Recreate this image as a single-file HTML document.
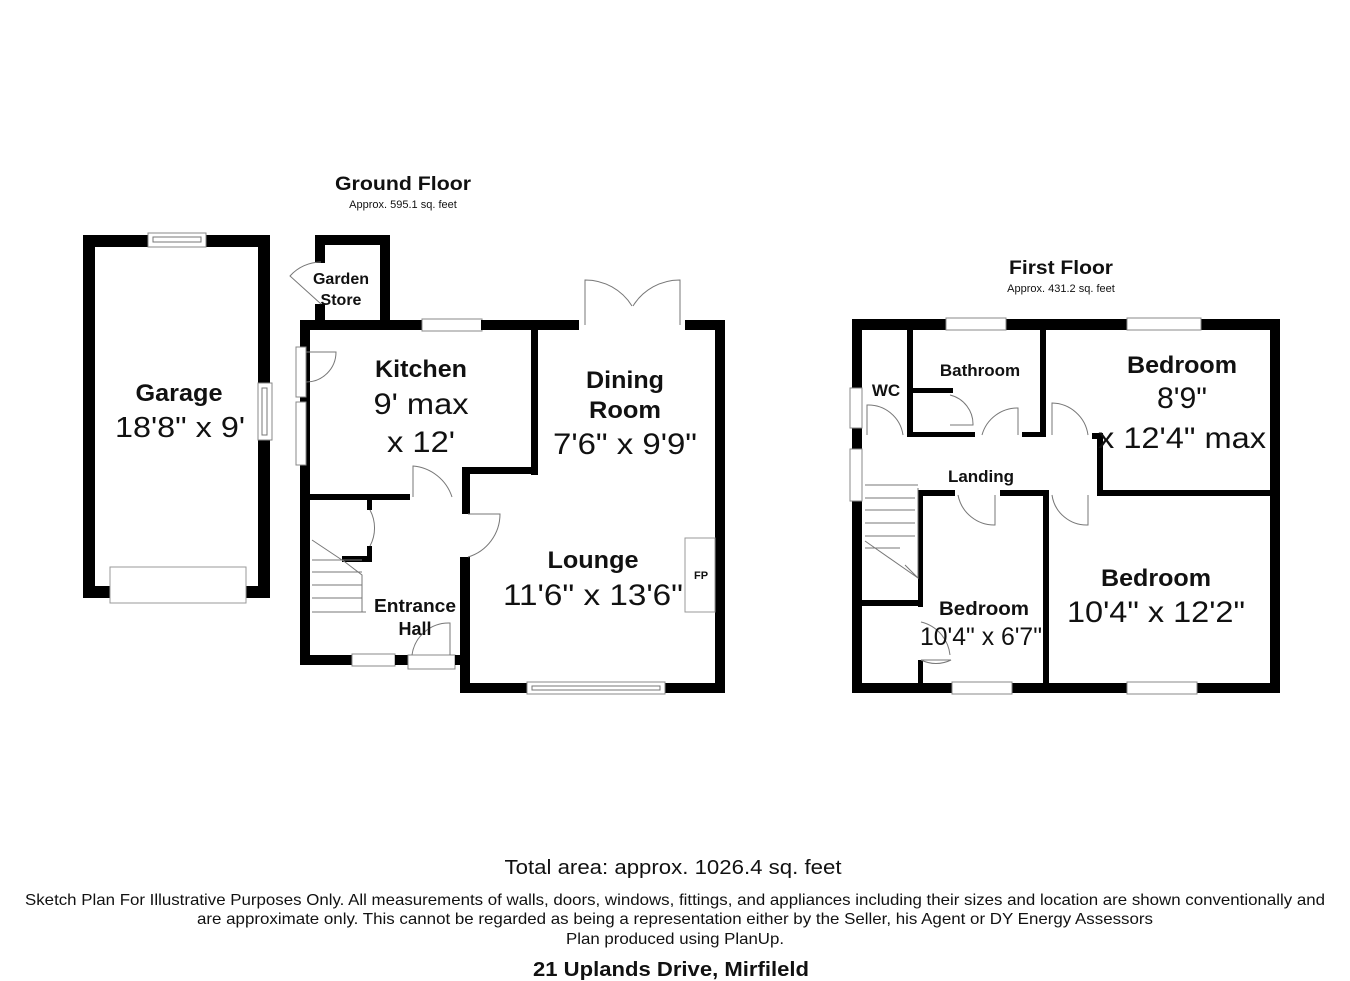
<!DOCTYPE html>
<html><head><meta charset="utf-8"><style>
html,body{margin:0;padding:0;background:#fff;}
svg{display:block;}
text{font-family:"Liberation Sans",sans-serif;fill:#111;}
.b{font-weight:bold;}
.w{fill:#000;}
.win{fill:#fff;stroke:#888;stroke-width:1;}
.ln{fill:none;stroke:#777;stroke-width:1;}
</style></head><body>
<svg width="1350" height="981" viewBox="0 0 1350 981" xmlns="http://www.w3.org/2000/svg">
<!-- Headings -->
<text x="403" y="190" font-size="19" class="b" text-anchor="middle" textLength="136" lengthAdjust="spacingAndGlyphs">Ground Floor</text>
<text x="403" y="208" font-size="11" text-anchor="middle">Approx. 595.1 sq. feet</text>
<text x="1061" y="274" font-size="19" class="b" text-anchor="middle" textLength="104" lengthAdjust="spacingAndGlyphs">First Floor</text>
<text x="1061" y="292" font-size="11" text-anchor="middle">Approx. 431.2 sq. feet</text>

<!-- Garage -->
<rect class="w" x="83" y="235" width="187" height="12"/>
<rect class="w" x="83" y="235" width="12" height="363"/>
<rect class="w" x="258" y="235" width="12" height="363"/>
<rect class="w" x="83" y="586" width="187" height="12"/>
<rect class="win" x="148" y="233" width="58" height="14"/>
<rect class="ln" x="153" y="237" width="48" height="5"/>
<rect class="win" x="258" y="383" width="14" height="57"/>
<rect class="ln" x="262" y="388" width="5" height="47"/>
<rect x="110" y="567" width="136" height="36" fill="#fff" stroke="#999"/>
<text x="179" y="401" font-size="24" class="b" text-anchor="middle" textLength="87" lengthAdjust="spacingAndGlyphs">Garage</text>
<text x="180" y="437" font-size="29" text-anchor="middle" textLength="130" lengthAdjust="spacingAndGlyphs">18'8" x 9'</text>

<!-- Ground floor walls -->
<rect class="w" x="315" y="235" width="75" height="10"/>
<rect class="w" x="315" y="235" width="10" height="28"/>
<rect class="w" x="315" y="304" width="10" height="26"/>
<rect class="w" x="380" y="235" width="10" height="95"/>
<path class="ln" d="M321 262 A42 42 0 0 0 290 276 L321 304"/>
<rect class="w" x="300" y="320" width="122" height="10"/>
<rect class="win" x="422" y="319" width="60" height="12"/>
<rect class="w" x="481" y="320" width="98" height="10"/>
<rect class="w" x="685" y="320" width="40" height="10"/>
<path class="ln" d="M585 325 L585 280 A55 55 0 0 1 632 306 M680 325 L680 280 A55 55 0 0 0 633 306"/>
<rect class="w" x="715" y="320" width="10" height="373"/>
<rect class="w" x="460" y="683" width="265" height="10"/>
<rect class="win" x="527" y="682" width="138" height="12"/>
<rect class="ln" x="532" y="686" width="128" height="4"/>
<rect class="w" x="300" y="320" width="10" height="345"/>
<rect class="win" x="296" y="347" width="10" height="50"/>
<rect class="win" x="296" y="402" width="10" height="63"/>
<path class="ln" d="M306 352 L336 352 A30 30 0 0 1 306 382"/>
<rect class="w" x="300" y="655" width="52" height="10"/>
<rect class="win" x="352" y="654" width="43" height="12"/>
<rect class="w" x="395" y="655" width="13" height="10"/>
<rect class="win" x="408" y="655" width="47" height="14"/>
<path class="ln" d="M412 655 A37 37 0 0 1 450 623 L450 655"/>
<rect class="w" x="455" y="655" width="13" height="10"/>
<rect class="w" x="460" y="557" width="10" height="136"/>
<rect class="w" x="462" y="494" width="8" height="20"/>
<path class="ln" d="M468 514 L500 514 A45 45 0 0 1 468 557"/>
<rect class="w" x="531" y="330" width="7" height="145"/>
<rect class="w" x="462" y="467" width="76" height="7"/>
<rect class="w" x="462" y="467" width="8" height="33"/>
<rect class="w" x="310" y="494" width="100" height="6"/>
<path class="ln" d="M413 497 L413 466 A45 45 0 0 1 452 497"/>
<rect class="w" x="367" y="500" width="5" height="10"/>
<rect class="w" x="342" y="556" width="30" height="6"/>
<rect class="w" x="367" y="546" width="5" height="16"/>
<path class="ln" d="M370 510 A38 38 0 0 1 370 546"/>
<path class="ln" d="M312 540 L345 562 L362 575 L362 612 L366 612 M312 560 L362 560 M312 572 L362 572 M312 585 L362 585 M312 598 L362 598 M312 612 L366 612"/>
<rect x="685" y="538" width="30" height="74" fill="#fff" stroke="#999"/>
<text x="701" y="579" font-size="11" class="b" text-anchor="middle">FP</text>

<text x="341" y="284" font-size="16" class="b" text-anchor="middle">Garden</text>
<text x="341" y="305" font-size="16" class="b" text-anchor="middle">Store</text>
<text x="421" y="377" font-size="24" class="b" text-anchor="middle" textLength="92" lengthAdjust="spacingAndGlyphs">Kitchen</text>
<text x="421" y="414" font-size="30" text-anchor="middle" textLength="95" lengthAdjust="spacingAndGlyphs">9' max</text>
<text x="421" y="452" font-size="30" text-anchor="middle" textLength="68" lengthAdjust="spacingAndGlyphs">x 12'</text>
<text x="625" y="388" font-size="24" class="b" text-anchor="middle" textLength="78" lengthAdjust="spacingAndGlyphs">Dining</text>
<text x="625" y="418" font-size="24" class="b" text-anchor="middle" textLength="72" lengthAdjust="spacingAndGlyphs">Room</text>
<text x="625" y="454" font-size="30" text-anchor="middle" textLength="144" lengthAdjust="spacingAndGlyphs">7'6" x 9'9"</text>
<text x="593" y="568" font-size="24" class="b" text-anchor="middle" textLength="91" lengthAdjust="spacingAndGlyphs">Lounge</text>
<text x="593" y="605" font-size="30" text-anchor="middle" textLength="180" lengthAdjust="spacingAndGlyphs">11'6" x 13'6"</text>
<text x="415" y="612" font-size="18" class="b" text-anchor="middle" textLength="82" lengthAdjust="spacingAndGlyphs">Entrance</text>
<text x="415" y="635" font-size="18" class="b" text-anchor="middle">Hall</text>

<!-- First floor -->
<rect class="w" x="852" y="319" width="428" height="11"/>
<rect class="win" x="946" y="318" width="60" height="12"/>
<rect class="win" x="1127" y="318" width="74" height="12"/>
<rect class="w" x="1270" y="319" width="10" height="374"/>
<rect class="w" x="852" y="683" width="428" height="10"/>
<rect class="win" x="952" y="682" width="60" height="12"/>
<rect class="win" x="1127" y="682" width="70" height="12"/>
<rect class="w" x="852" y="319" width="10" height="374"/>
<rect class="win" x="850" y="388" width="12" height="40"/>
<rect class="win" x="850" y="449" width="12" height="52"/>
<rect class="w" x="852" y="600" width="71" height="6"/>
<rect class="w" x="907" y="330" width="6" height="107"/>
<rect class="w" x="907" y="432" width="68" height="5"/>
<rect class="w" x="1022" y="432" width="20" height="5"/>
<rect class="w" x="913" y="388" width="40" height="5"/>
<rect class="w" x="1040" y="330" width="6" height="107"/>
<path class="ln" d="M867 435 L867 405 A35 35 0 0 1 903 435 M950 395 A30 30 0 0 1 973 425 L950 425 M982 435 A37 37 0 0 1 1018 408 L1018 435 M1052 435 L1052 403 A37 37 0 0 1 1088 435"/>
<rect class="w" x="1092" y="433" width="11" height="6"/>
<rect class="w" x="1097" y="433" width="6" height="63"/>
<rect class="w" x="1097" y="490" width="173" height="6"/>
<rect class="w" x="918" y="490" width="37" height="6"/>
<rect class="w" x="1000" y="490" width="48" height="6"/>
<rect class="w" x="1043" y="490" width="6" height="193"/>
<path class="ln" d="M958 495 A37 37 0 0 0 995 525 L995 495 M1052 495 A35 35 0 0 0 1088 525 L1088 495"/>
<rect class="w" x="918" y="490" width="5" height="117"/>
<rect class="w" x="918" y="660" width="5" height="23"/>
<path class="ln" d="M921 660 A34 34 0 0 0 951 660 L921 660 M921 622 A38 38 0 0 1 950 655"/>
<path class="ln" d="M918 488 L918 578 L905 565 M865 485 L918 485 M865 498 L915 498 M865 510 L915 510 M865 523 L915 523 M865 536 L915 536 M865 548 L900 548 M865 541 L918 578"/>
<text x="886" y="396" font-size="17" class="b" text-anchor="middle">WC</text>
<text x="980" y="376" font-size="17" class="b" text-anchor="middle">Bathroom</text>
<text x="1182" y="373" font-size="24" class="b" text-anchor="middle" textLength="110" lengthAdjust="spacingAndGlyphs">Bedroom</text>
<text x="1182" y="408" font-size="30" text-anchor="middle" textLength="50" lengthAdjust="spacingAndGlyphs">8'9"</text>
<text x="1182" y="448" font-size="30" text-anchor="middle" textLength="168" lengthAdjust="spacingAndGlyphs">x 12'4" max</text>
<text x="981" y="482" font-size="17" class="b" text-anchor="middle">Landing</text>
<text x="1156" y="586" font-size="24" class="b" text-anchor="middle" textLength="110" lengthAdjust="spacingAndGlyphs">Bedroom</text>
<text x="1156" y="622" font-size="30" text-anchor="middle" textLength="178" lengthAdjust="spacingAndGlyphs">10'4" x 12'2"</text>
<text x="984" y="615" font-size="19" class="b" text-anchor="middle" textLength="90" lengthAdjust="spacingAndGlyphs">Bedroom</text>
<text x="981" y="645" font-size="25" text-anchor="middle" textLength="122" lengthAdjust="spacingAndGlyphs">10'4" x 6'7"</text>

<!-- Footer -->
<text x="673" y="874" font-size="20" text-anchor="middle" textLength="337" lengthAdjust="spacingAndGlyphs">Total area: approx. 1026.4 sq. feet</text>
<text x="675" y="905" font-size="16" text-anchor="middle" textLength="1300" lengthAdjust="spacingAndGlyphs">Sketch Plan For Illustrative Purposes Only. All measurements of walls, doors, windows, fittings, and appliances including their sizes and location are shown conventionally and</text>
<text x="675" y="924" font-size="16" text-anchor="middle" textLength="956" lengthAdjust="spacingAndGlyphs">are approximate only. This cannot be regarded as being a representation either by the Seller, his Agent or DY Energy Assessors</text>
<text x="675" y="944" font-size="16" text-anchor="middle" textLength="218" lengthAdjust="spacingAndGlyphs">Plan produced using PlanUp.</text>
<text x="671" y="976" font-size="20" class="b" text-anchor="middle" textLength="276" lengthAdjust="spacingAndGlyphs">21 Uplands Drive, Mirfileld</text>
</svg>
</body></html>
